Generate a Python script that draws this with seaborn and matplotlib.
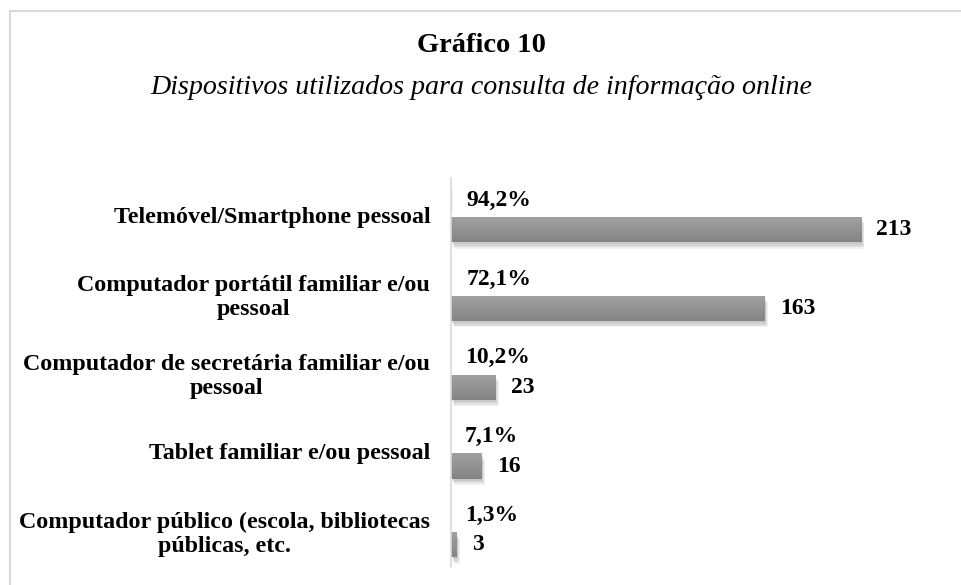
import numpy as np
import pandas as pd
import matplotlib.pyplot as plt
import matplotlib.patheffects as pe
from matplotlib.colors import LinearSegmentedColormap
from matplotlib.patches import Rectangle
import seaborn as sns

# Daten
categories = [
    "Telemóvel/Smartphone pessoal",
    "Computador portátil familiar e/ou\npessoal",
    "Computador de secretária familiar e/ou\npessoal",
    "Tablet familiar e/ou pessoal",
    "Computador público (escola, bibliotecas\npúblicas, etc.",
]
counts = [213, 163, 23, 16, 3]
percents = [94.2, 72.1, 10.2, 7.1, 1.3]

df = pd.DataFrame({
    "categoria": categories * 2,
    "serie": ["pct"] * len(categories) + ["n"] * len(categories),
    "valor": [p / 100 for p in percents] + counts,
})

sns.set_style("white")
plt.rcParams['font.family'] = ['Liberation Serif', 'DejaVu Serif']
plt.rcParams['text.color'] = 'black'
plt.rcParams['ytick.color'] = 'black'

fig = plt.figure(figsize=(9.62, 5.85), dpi=100)
ax = fig.add_axes([451 / 962, 1 - 567 / 585, (913 - 451) / 962, (567 - 178) / 585])

sns.barplot(data=df, x="valor", y="categoria", hue="serie", orient="h",
            palette={"pct": "#e4e4e4", "n": "#939393"}, width=0.75, gap=0.15,
            legend=False, ax=ax)

# weicher Schatten + Verlauf in den Balken
shadow = [pe.SimplePatchShadow(offset=(o * 0.6, -o - 0.5), shadow_rgbFace="#404040", alpha=0.08)
          for o in (4, 3, 2, 1)] + [pe.Normal()]
grad = LinearSegmentedColormap.from_list("grau", ["#a2a2a2", "#848484"])
for bar in ax.containers[1]:
    bar.set_edgecolor("none")
    bar.set_path_effects(shadow)
    x0, y0 = bar.get_x(), bar.get_y()
    w, h = bar.get_width(), bar.get_height()
    im = ax.imshow(np.linspace(0, 1, 50).reshape(-1, 1), cmap=grad, aspect="auto",
                   extent=(x0, x0 + w, y0 + h, y0), origin="upper", zorder=bar.get_zorder() + 0.1)
    im.set_clip_path(bar)

ax.bar_label(ax.containers[0], labels=[f"{p:.1f}%".replace(".", ",") for p in percents],
             padding=10, fontsize=17, fontweight="bold", color="black")
ax.bar_label(ax.containers[1], labels=[str(c) for c in counts],
             padding=11, fontsize=17, fontweight="bold", color="black")

ax.set_xlim(0, 240)
ax.set_ylim(4.47, -0.47)
ax.set_xlabel("")
ax.set_ylabel("")
ax.set_xticks([])
for lab in ax.get_yticklabels():
    lab.set_fontweight("bold")
    lab.set_fontsize(17.3)
    lab.set_multialignment("center")
    lab.set_color("black")
ax.tick_params(axis="y", length=0, pad=15)
for s in ["top", "right", "bottom"]:
    ax.spines[s].set_visible(False)
ax.spines["left"].set_color("#d9d9d9")
ax.spines["left"].set_linewidth(1.2)

fig.text(0.5, 1 - 45 / 585, "Gráfico 10", ha="center", va="center",
         fontsize=20.5, fontweight="bold")
fig.text(0.5, 1 - 88 / 585, "Dispositivos utilizados para consulta de informação online",
         ha="center", va="center", fontsize=20.2, style="italic")

# Rahmen
fig.patches.append(Rectangle((10 / 962, -0.05), 1.0, 1 - 10.5 / 585 + 0.05,
                             transform=fig.transFigure, fill=False,
                             edgecolor="#d9d9d9", linewidth=1.5))

fig.savefig("out.png", dpi=100)
